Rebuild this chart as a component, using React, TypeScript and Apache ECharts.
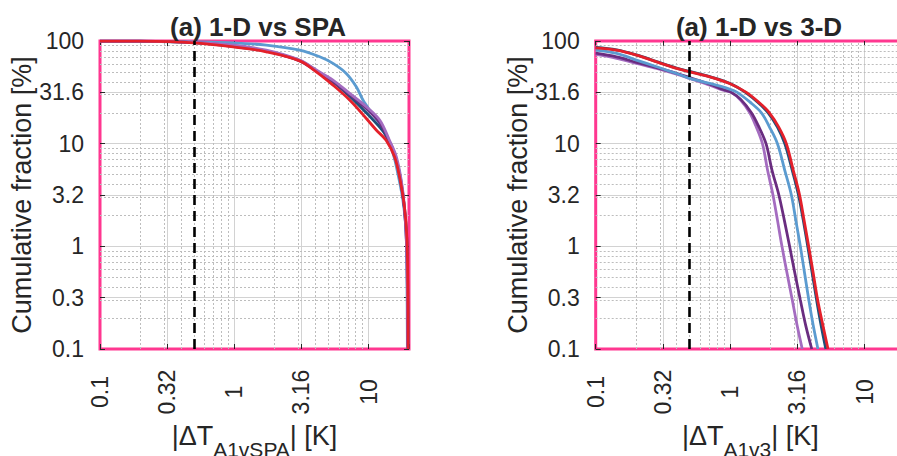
import React, { useEffect, useRef } from "react";
import * as echarts from "echarts";

// ---------- data (x = |ΔT| in K, y = cumulative fraction in %) ----------
const xTickLabels = ["0.1", "0.32", "1", "3.16", "10"];
const yTickLabels = ["0.1", "0.3", "1", "3.2", "10", "31.6", "100"];
const xMinorGrid = [0.2, 0.3, 0.4, 0.5, 0.6, 0.7, 0.8, 0.9, 2, 3, 4, 5, 6, 7, 8, 9];
const yMinorGrid = [0.2, 0.3, 0.4, 0.5, 0.6, 0.7, 0.8, 0.9, 2, 3, 4, 5, 6, 7, 8, 9, 20, 30, 40, 50, 60, 70, 80, 90];
const thresholdX = 0.5;

const titles = ["(a) 1-D vs SPA", "(a) 1-D vs 3-D"];
const xNameSubs = ["A1vSPA", "A1v3"];

// Panel 1: 1-D vs SPA
const spaLightBlue = [[0.1, 99.9], [0.2, 99.6], [0.494, 98.2], [0.98, 96], [1.73, 91.2], [3.07, 81.5], [4.33, 70.2], [5.43, 60.5], [6.82, 48.3], [8.1, 35.8], [9.08, 26.6], [10.2, 21.2], [12.1, 15.8], [13.5, 11.7], [15.2, 8.05], [16.5, 5.14], [18.0, 2.82], [19.0, 1.44], [19.3, 0.5], [19.45, 0.1]];
const spaDarkBlue = [[0.1, 99.9], [0.2, 99.5], [0.494, 96.5], [0.98, 88.5], [1.73, 79.5], [3.07, 64.5], [4.08, 51.5], [5.43, 40], [7.23, 29], [9.62, 20], [12.1, 14.5], [13.5, 12], [15.6, 8], [17.0, 5], [18.5, 2.4], [19.3, 1.1], [19.6, 0.3], [19.7, 0.1]];
const spaDarkPurple = [[0.1, 99.9], [0.2, 99.5], [0.494, 96.5], [0.98, 90], [1.73, 80], [3.07, 64], [4.08, 51], [5.43, 40.5], [7.23, 30], [9.62, 22], [12.1, 16], [14.3, 10.5], [16.1, 7], [17.5, 4.2], [18.5, 2.3], [19.2, 1], [19.5, 0.3], [19.6, 0.1]];
const spaLightPurple = [[0.1, 99.9], [0.2, 99.6], [0.494, 96.8], [0.98, 91.2], [1.73, 81.5], [3.07, 65.2], [4.08, 52.1], [5.43, 41.6], [7.23, 30.9], [9.62, 22.9], [12.1, 17], [14.3, 10.8], [16.1, 7.45], [17.5, 4.43], [18.5, 2.43], [19.2, 1], [19.5, 0.3], [19.6, 0.1]];
const spaRed = [[0.1, 99.9], [0.2, 99.5], [0.494, 96], [0.98, 87.7], [1.73, 78.5], [3.07, 64.1], [4.08, 50.1], [5.43, 37.2], [7.23, 26.6], [9.62, 17.6], [11.4, 13.6], [13.5, 10.8], [15.6, 7.45], [17.0, 4.76], [18.5, 2.43], [19.3, 1.2], [19.6, 0.4], [19.7, 0.1]];

// Panel 2: 1-D vs 3-D
const d3LightPurple = [[0.1, 74], [0.143, 67.8], [0.201, 60.5], [0.284, 54.1], [0.399, 47.6], [0.501, 43.2], [0.705, 37.2], [0.9, 33], [1.02, 31.6], [1.2, 26.5], [1.4, 20], [1.55, 15], [1.74, 10], [1.9, 5.5], [2.08, 3.2], [2.25, 1.8], [2.43, 1.0], [2.65, 0.55], [2.9, 0.3], [3.15, 0.17], [3.44, 0.1]];
const d3DarkPurple = [[0.1, 76], [0.143, 70], [0.201, 62], [0.284, 55], [0.399, 48.5], [0.501, 44], [0.705, 38], [0.9, 33.5], [1.02, 31.6], [1.2, 27], [1.44, 20], [1.62, 15], [1.85, 10], [2.05, 5.5], [2.3, 3.2], [2.53, 1.8], [2.77, 1.0], [3.03, 0.55], [3.33, 0.3], [3.65, 0.17], [4.05, 0.1]];
const d3LightBlue = [[0.1, 81.5], [0.143, 75.7], [0.201, 65.2], [0.284, 56.1], [0.399, 48.3], [0.501, 43.2], [0.705, 38.6], [0.99, 34], [1.13, 31.6], [1.4, 25.5], [1.71, 20], [1.96, 14.6], [2.25, 10], [2.55, 5.5], [2.85, 3.2], [3.08, 1.8], [3.33, 1.0], [3.58, 0.55], [3.85, 0.3], [4.15, 0.17], [4.5, 0.1]];
const d3DarkBlue = [[0.1, 86.5], [0.143, 82], [0.201, 73.2], [0.284, 63], [0.399, 54.5], [0.501, 50.5], [0.705, 45], [0.99, 38.8], [1.3, 31.6], [1.62, 25], [1.92, 20], [2.25, 14.5], [2.55, 10], [2.9, 5.5], [3.22, 3.2], [3.5, 1.8], [3.78, 1.0], [4.08, 0.55], [4.4, 0.3], [4.75, 0.17], [5.15, 0.1]];
const d3Red = [[0.1, 85.9], [0.143, 81.5], [0.201, 72.9], [0.284, 62.7], [0.399, 54.1], [0.501, 50.1], [0.705, 44.8], [0.99, 38.6], [1.32, 31.6], [1.65, 25], [1.96, 20], [2.3, 14.5], [2.62, 10], [2.95, 5.5], [3.28, 3.2], [3.55, 1.8], [3.84, 1.0], [4.15, 0.55], [4.48, 0.3], [4.9, 0.17], [5.35, 0.1]];

// ---------- styling ----------
const FONT = "'Liberation Sans', Arial, Helvetica, sans-serif";
const TEXT = "#262626";
const PINK = "#FF3790";
const C = {
  lightBlue: "#5B9BD0",
  darkBlue: "#1D4F78",
  darkPurple: "#6A2D80",
  lightPurple: "#A46CC0",
  red: "#E4202A",
};
const SQRT10 = Math.sqrt(10);

const panels = [
  {
    curves: [
      ["light blue", spaLightBlue, C.lightBlue],
      ["dark blue", spaDarkBlue, C.darkBlue],
      ["dark purple", spaDarkPurple, C.darkPurple],
      ["light purple", spaLightPurple, C.lightPurple],
      ["red", spaRed, C.red],
    ],
  },
  {
    curves: [
      ["light purple", d3LightPurple, C.lightPurple],
      ["dark purple", d3DarkPurple, C.darkPurple],
      ["light blue", d3LightBlue, C.lightBlue],
      ["dark blue", d3DarkBlue, C.darkBlue],
      ["red", d3Red, C.red],
    ],
  },
];

const gridBoxes = [
  { left: 100, top: 41, width: 309, height: 308 },
  { left: 595.7, top: 41, width: 309.3, height: 308 },
];
const titleCenters = [258, 759];

function tickLabel(v: number, labels: string[]) {
  const k = Math.round(Math.log(v) / Math.log(SQRT10));
  const i = k + 2;
  return labels[i] ?? "";
}

function buildOption() {
  const xAxis: any[] = [];
  const yAxis: any[] = [];
  const series: any[] = [];
  const tickStyle = { show: true, inside: true, length: 5, lineStyle: { color: TEXT, width: 1 } };
  const majorSplit = {
    show: true,
    showMinLine: false,
    showMaxLine: false,
    lineStyle: { color: "#d2d2d2", width: 1 },
  };

  gridBoxes.forEach((_, g) => {
    const logX = { type: "log", logBase: SQRT10, min: 0.1, max: 20, gridIndex: g, splitNumber: 5 };
    const logY = { type: "log", logBase: SQRT10, min: 0.1, max: 100, gridIndex: g, splitNumber: 6 };
    xAxis.push({
      ...logX,
      position: "bottom",
      axisLine: { show: false },
      axisTick: tickStyle,
      axisLabel: {
        rotate: 90,
        align: "center",
        verticalAlign: "middle",
        margin: 43,
        fontSize: 23,
        color: TEXT,
        fontFamily: FONT,
        showMinLabel: true,
        showMaxLabel: true,
        hideOverlap: false,
        formatter: (v: number) => tickLabel(v, xTickLabels),
      },
      splitLine: majorSplit,
      name: `{m||ΔT}{s|${xNameSubs[g]}}{m|| [K]}`,
      nameLocation: "middle",
      nameGap: 69,
      nameTextStyle: {
        color: TEXT,
        fontSize: 27,
        fontFamily: FONT,
        rich: {
          m: { fontSize: 27, lineHeight: 32, color: TEXT, fontFamily: FONT, verticalAlign: "top" },
          s: { fontSize: 21, lineHeight: 24, color: TEXT, fontFamily: FONT, verticalAlign: "top", padding: [17, 0, 0, 0] },
        },
      },
    });
    xAxis.push({
      ...logX,
      position: "top",
      axisLine: { show: false },
      axisTick: tickStyle,
      axisLabel: { show: false },
      splitLine: { show: false },
    });
    yAxis.push({
      ...logY,
      position: "left",
      axisLine: { show: false },
      axisTick: tickStyle,
      axisLabel: {
        margin: 16,
        fontSize: 23,
        color: TEXT,
        fontFamily: FONT,
        showMinLabel: true,
        showMaxLabel: true,
        formatter: (v: number) => tickLabel(v, yTickLabels),
      },
      splitLine: majorSplit,
      name: "Cumulative fraction [%]",
      nameLocation: "middle",
      nameGap: 60,
      nameTextStyle: { color: TEXT, fontSize: 27, fontFamily: FONT },
    });
    yAxis.push({
      ...logY,
      position: "right",
      axisLine: { show: false },
      axisTick: tickStyle,
      axisLabel: { show: false },
      splitLine: { show: false },
    });

    const xi = g * 2;
    const yi = g * 2;
    // minor grid lines
    series.push({
      type: "line",
      name: "minor grid " + g,
      xAxisIndex: xi,
      yAxisIndex: yi,
      data: [],
      silent: true,
      markLine: {
        z: 1,
        silent: true,
        symbol: ["none", "none"],
        label: { show: false },
        lineStyle: { type: [2, 2], color: "#bdbdbd", width: 1 },
        emphasis: { disabled: true },
        data: [
          ...xMinorGrid.map((v) => ({ xAxis: v })),
          ...yMinorGrid.map((v) => ({ yAxis: v })),
        ],
      },
    });
    panels[g].curves.forEach(([name, pts, color]: any) => {
      series.push({
        type: "line",
        name,
        xAxisIndex: xi,
        yAxisIndex: yi,
        data: pts,
        smooth: 0.35,
        showSymbol: false,
        symbol: "none",
        z: 3,
        lineStyle: { color, width: 2.8 },
      });
    });
    // threshold dashed line
    series.push({
      type: "line",
      name: "threshold " + g,
      xAxisIndex: xi,
      yAxisIndex: yi,
      data: [],
      silent: true,
      markLine: {
        z: 4,
        silent: true,
        symbol: ["none", "none"],
        label: { show: false },
        lineStyle: { type: [10, 6], color: "#000", width: 2.6 },
        emphasis: { disabled: true },
        data: [{ xAxis: thresholdX }],
      },
    });
  });

  return {
    animation: false,
    textStyle: { fontFamily: FONT },
    grid: gridBoxes.map((b) => ({
      ...b,
      show: true,
      borderColor: PINK,
      borderWidth: 3,
      backgroundColor: "transparent",
      containLabel: false,
      outerBoundsMode: "none",
    })),
    xAxis,
    yAxis,
    series,
    graphic: titles.map((t, i) => ({
      type: "text",
      x: titleCenters[i],
      y: 27,
      z: 10,
      style: {
        text: t,
        font: `bold 26px ${FONT}`,
        fill: TEXT,
        align: "center",
        verticalAlign: "middle",
        textAlign: "center",
        textVerticalAlign: "middle",
      },
    })),
  };
}

export default function App() {
  const ref = useRef<HTMLDivElement>(null);
  useEffect(() => {
    if (!ref.current) return;
    const chart = echarts.init(ref.current, null, { renderer: "svg" });
    chart.setOption(buildOption() as any);
    return () => chart.dispose();
  }, []);
  return (
    <div
      style={{
        position: "fixed",
        left: 0,
        top: 0,
        width: 897,
        height: 456,
        overflow: "hidden",
        background: "#fff",
      }}
    >
      <div ref={ref} style={{ width: 920, height: 456 }} />
    </div>
  );
}
